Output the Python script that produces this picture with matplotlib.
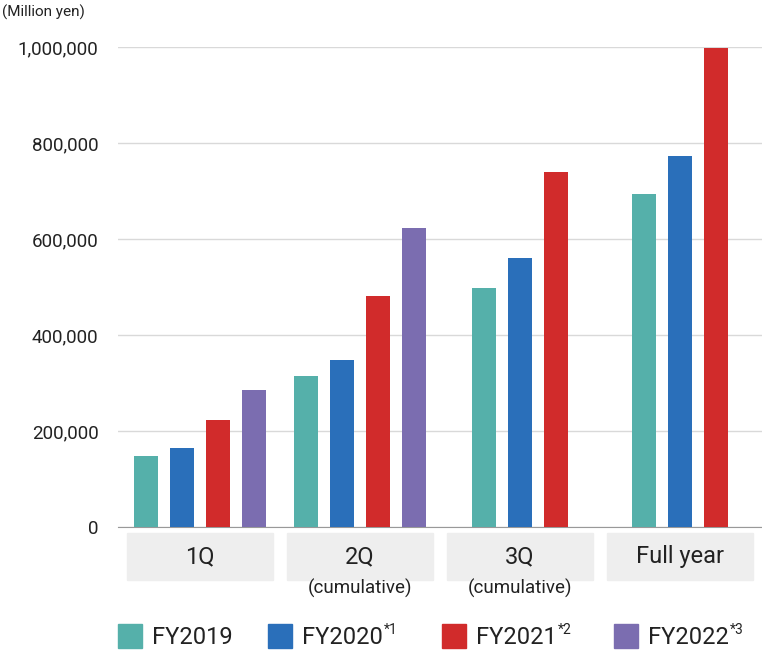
import matplotlib
matplotlib.use("Agg")
import matplotlib.pyplot as plt
from matplotlib.patches import Rectangle
import matplotlib.transforms as mtransforms

plt.rcParams["font.family"] = "Roboto"

categories = ["1Q", "2Q", "3Q", "Full year"]
sublabels = ["", "(cumulative)", "(cumulative)", ""]
series_names = ["FY2019", "FY2020", "FY2021", "FY2022"]
series_sup = ["", "*1", "*2", "*3"]
fy2019 = [148000, 315000, 498000, 694000]
fy2020 = [165000, 348000, 560000, 773000]
fy2021 = [223000, 481000, 740000, 998000]
fy2022 = [285000, 623000, None, None]
yticks = [0, 200000, 400000, 600000, 800000, 1000000]
colors = ["#55b0aa", "#2a6fba", "#d12b2b", "#7b6db0"]

W, H = 762, 652
fig = plt.figure(figsize=(W/100, H/100), dpi=100)
ax = fig.add_axes([118/W, (H-527)/H, (W-118)/W, 480/H])
series = [fy2019, fy2020, fy2021, fy2022]
gap = 160
for gi in range(len(categories)):
    vals = [(si, s[gi]) for si, s in enumerate(series) if s[gi] is not None]
    n = len(vals)
    for k, (si, v) in enumerate(vals):
        x = gi*gap + (k - (n-1)/2)*36
        ax.bar(x, v, width=24, color=colors[si], zorder=3)
ax.set_xlim(-82, 562)
ax.set_ylim(0, 1000000)
ax.set_yticks(yticks)
ax.set_yticklabels([f"{v:,}" for v in yticks], fontsize=13.5, color="#222222")
ax.yaxis.grid(True, color="#d9d9d9", lw=1, zorder=0)
ax.set_xticks([])
for s in ["top", "right", "left"]:
    ax.spines[s].set_visible(False)
ax.spines["bottom"].set_color("#999999")
ax.tick_params(axis="y", length=0, pad=14)

trans = mtransforms.blended_transform_factory(ax.transData, fig.transFigure)
for gi, c in enumerate(categories):
    cx = gi*gap
    ax.add_patch(Rectangle((cx-73, (H-580)/H), 146, 47/H, transform=trans,
                           color="#eeeeee", clip_on=False, zorder=1))
    ax.text(cx, (H-557)/H, c, transform=trans, ha="center", va="center", fontsize=17, color="#222222")
    if sublabels[gi]:
        ax.text(cx, (H-588)/H, sublabels[gi], transform=trans, ha="center", va="center", fontsize=13.5, color="#222222")

fig.text(2/W, (H-12)/H, "(Million yen)", fontsize=11, va="center", color="#222222")

leg_sq = [118, 268, 442, 614]
for i, name in enumerate(series_names):
    x0 = leg_sq[i]
    fig.patches.append(Rectangle((x0/W, (H-648)/H), 24/W, 24/H, transform=fig.transFigure,
                                 color=colors[i], figure=fig))
    t = fig.text((x0+34)/W, (H-637)/H, name, fontsize=17, va="center", color="#222222")
    if series_sup[i]:
        fig.canvas.draw()
        bb = t.get_window_extent()
        fig.text((bb.x1+1)/W, (H-630)/H, series_sup[i], fontsize=10, va="center", color="#222222")

fig.savefig("out.png", dpi=100)
